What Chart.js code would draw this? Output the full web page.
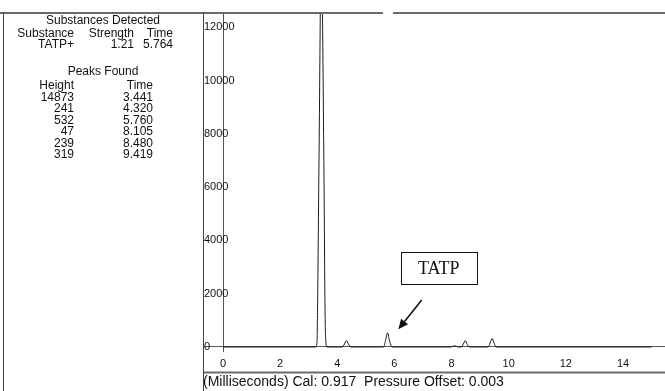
<!DOCTYPE html>
<html>
<head>
<meta charset="utf-8">
<script src="https://cdn.jsdelivr.net/npm/chart.js@4/dist/chart.umd.min.js"></script>
<style>
  html, body { margin: 0; padding: 0; background: #fff; }
  #page { position: relative; width: 665px; height: 391px; overflow: hidden; background: #fff; }
  #plot { position: absolute; left: 0; top: 0; }
  .t { position: absolute; height: 14px; line-height: 14px; font-family: "Liberation Sans", Arial, sans-serif;
       font-size: 12px; color: #111; white-space: pre; }
  .r { text-align: right; width: 200px; }
  .c { text-align: center; width: 200px; }
  #caption { font-size: 14px; height: 16px; line-height: 16px; }
</style>
</head>
<body>
<div id="page">
  <canvas id="plot" width="665" height="391"></canvas>
  <div id="panel"></div>
  <div id="caption" class="t"></div>
</div>
<script>
// Detection report
const substanceNames = ['TATP+'];
const substanceStrengths = ['1.21'];
const substanceTimes = ['5.764'];

const peakHeights = [14873, 241, 532, 47, 239, 319];
const peakTimes = ['3.441', '4.320', '5.760', '8.105', '8.480', '9.419'];

// Ion mobility trace (drift time in ms, signal)
const traceTimes = [0, 3.25, 3.29, 3.31, 3.36, 3.441, 3.53, 3.57, 3.60, 3.64,
                    4.18, 4.25, 4.320, 4.39, 4.47,
                    5.62, 5.69, 5.760, 5.83, 5.92,
                    7.98, 8.105, 8.24,
                    8.34, 8.41, 8.480, 8.55, 8.62,
                    9.28, 9.35, 9.419, 9.49, 9.56,
                    15.0];
const traceValues = [0, 0, 200, 1500, 7000, 14873, 7000, 1500, 200, 0,
                     0, 110, 241, 110, 0,
                     0, 250, 532, 220, 0,
                     0, 47, 0,
                     0, 110, 239, 100, 0,
                     0, 150, 319, 140, 0,
                     0];

// Axis ticks
const xTicks = [0, 2, 4, 6, 8, 10, 12, 14];
const yTicks = [0, 2000, 4000, 6000, 8000, 10000, 12000];

const captionText = '(Milliseconds) Cal: 0.917  Pressure Offset: 0.003';

// Callout pointing at the TATP peak
const calloutText = 'TATP';
const calloutCenter = { x: 7.55, y: 2950 };
const arrowFrom = { x: 6.955, y: 1760 };
const arrowTo = { x: 6.136, y: 665 };

// ---- left text panel ----
const panel = document.getElementById('panel');
function put(text, x, yc, align) {
  const d = document.createElement('div');
  d.className = 't ' + (align === 'right' ? 'r' : 'c');
  d.textContent = text;
  d.style.left = (align === 'right' ? x - 200 : x - 100) + 'px';
  d.style.top = (yc - 7) + 'px';
  panel.appendChild(d);
}
put('Substances Detected', 103, 19.5, 'center');
put('Substance', 74, 32.5, 'right');
put('Strength', 134, 32.5, 'right');
put('Time', 173, 32.5, 'right');
substanceNames.forEach((n, i) => {
  const y = 44 + i * 11.5;
  put(n, 74, y, 'right');
  put(substanceStrengths[i], 134, y, 'right');
  put(substanceTimes[i], 173, y, 'right');
});
put('Peaks Found', 103, 71, 'center');
put('Height', 74, 85, 'right');
put('Time', 153, 85, 'right');
peakHeights.forEach((h, i) => {
  const y = 96.5 + i * 11.5;
  put(String(h), 74, y, 'right');
  put(peakTimes[i], 153, y, 'right');
});

const cap = document.getElementById('caption');
cap.textContent = captionText;
cap.style.left = '203px';
cap.style.top = '373px';

// ---- frame lines and callout ----
const framePlugin = {
  id: 'frame',
  afterDraw(chart) {
    const { ctx, chartArea: a } = chart;
    ctx.save();
    ctx.strokeStyle = '#6a6a6a';
    ctx.lineWidth = 2;
    ctx.beginPath();
    ctx.moveTo(0, 13); ctx.lineTo(383, 13);
    ctx.moveTo(393, 13); ctx.lineTo(665, 13);
    ctx.moveTo(203, 372.5); ctx.lineTo(665, 372.5);
    ctx.stroke();
    ctx.strokeStyle = '#444';
    ctx.lineWidth = 1;
    ctx.beginPath();
    ctx.moveTo(3.5, 12); ctx.lineTo(3.5, 391);
    ctx.moveTo(a.left + 0.5, 12); ctx.lineTo(a.left + 0.5, 391);
    ctx.stroke();
    ctx.restore();
  },
  afterDatasetsDraw(chart) {
    const { ctx, scales: { x, y } } = chart;
    ctx.save();
    // box with label
    const cx = x.getPixelForValue(calloutCenter.x);
    const cy = y.getPixelForValue(calloutCenter.y);
    const w = 76, h = 32;
    ctx.strokeStyle = '#111';
    ctx.lineWidth = 1;
    ctx.strokeRect(Math.round(cx - w / 2) + 0.5, Math.round(cy - h / 2) + 0.5, w, h);
    ctx.fillStyle = '#111';
    ctx.font = '18px "Liberation Serif", "Times New Roman", serif';
    ctx.textAlign = 'center';
    ctx.textBaseline = 'middle';
    ctx.fillText(calloutText, cx, cy + 1);
    // arrow
    const x0 = x.getPixelForValue(arrowFrom.x), y0 = y.getPixelForValue(arrowFrom.y);
    const x1 = x.getPixelForValue(arrowTo.x), y1 = y.getPixelForValue(arrowTo.y);
    const ang = Math.atan2(y1 - y0, x1 - x0);
    const hl = 10, hw = 4.5;
    const bx = x1 - hl * Math.cos(ang), by = y1 - hl * Math.sin(ang);
    ctx.lineWidth = 1.6;
    ctx.beginPath();
    ctx.moveTo(x0, y0); ctx.lineTo(bx, by);
    ctx.stroke();
    ctx.beginPath();
    ctx.moveTo(x1, y1);
    ctx.lineTo(bx + hw * Math.sin(ang), by - hw * Math.cos(ang));
    ctx.lineTo(bx - hw * Math.sin(ang), by + hw * Math.cos(ang));
    ctx.closePath();
    ctx.fill();
    ctx.restore();
  }
};

const zeroGrid = (c) => (c.tick && c.tick.value === 0 ? '#555' : 'rgba(0,0,0,0)');

new Chart(document.getElementById('plot'), {
  type: 'line',
  data: {
    datasets: [{
      data: traceTimes.map((t, i) => ({ x: t, y: traceValues[i] })),
      borderColor: '#1a1a1a',
      borderWidth: 1,
      pointRadius: 0,
      fill: false,
      tension: 0,
      cubicInterpolationMode: 'monotone'
    }]
  },
  options: {
    responsive: false,
    animation: false,
    devicePixelRatio: 1,
    layout: { padding: { left: 203, top: 12, right: 0, bottom: 0 } },
    plugins: { legend: { display: false }, tooltip: { enabled: false } },
    scales: {
      x: {
        type: 'linear',
        min: -0.70,
        max: 15.47,
        afterFit(s) { s.height = 39; },
        afterBuildTicks(s) { s.ticks = xTicks.map(v => ({ value: v })); },
        border: { display: false },
        grid: { color: zeroGrid, borderDash: [5, 3, 1, 3], drawTicks: false, lineWidth: 1 },
        ticks: {
          padding: 5,
          maxRotation: 0,
          autoSkip: false,
          color: '#111',
          font: { family: '"Liberation Sans", Arial, sans-serif', size: 11 },
          callback: v => String(v)
        }
      },
      y: {
        type: 'linear',
        min: -188,
        max: 12570,
        afterFit(s) { s.width = 0; },
        afterBuildTicks(s) { s.ticks = yTicks.map(v => ({ value: v })); },
        border: { display: false },
        grid: { color: zeroGrid, borderDash: [5, 3, 1, 3], drawTicks: false, lineWidth: 1 },
        ticks: {
          mirror: true,
          padding: 1,
          color: '#111',
          font: { family: '"Liberation Sans", Arial, sans-serif', size: 11 },
          callback: v => String(v)
        }
      }
    }
  },
  plugins: [framePlugin]
});
</script>
</body>
</html>
